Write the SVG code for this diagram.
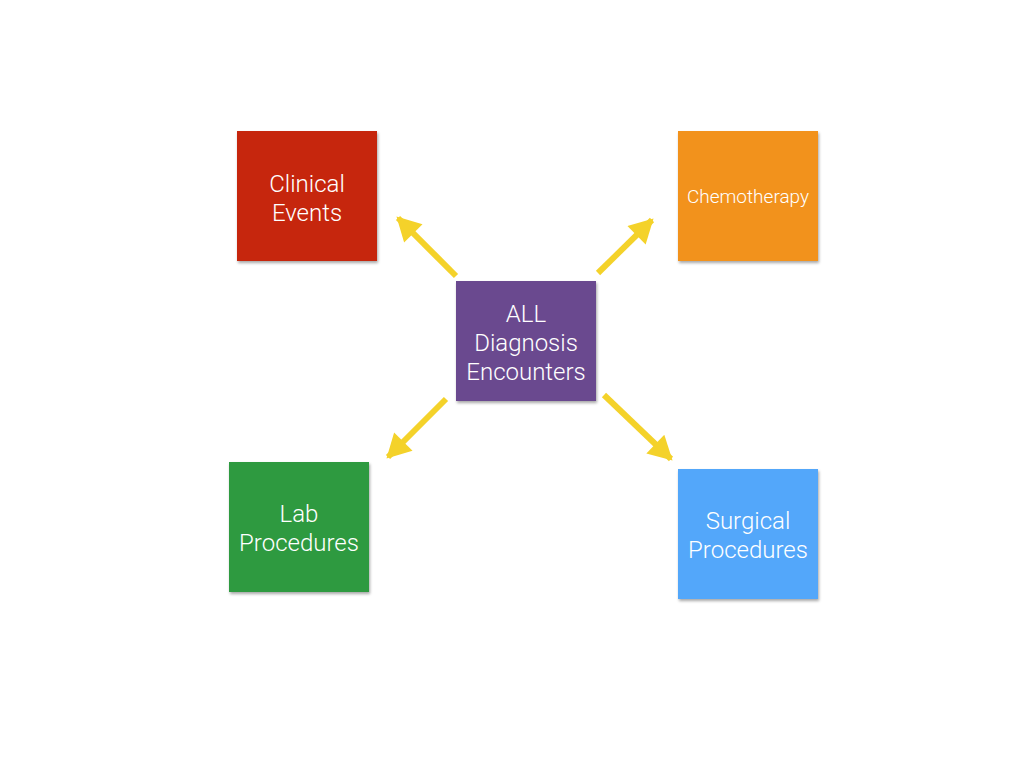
<svg xmlns="http://www.w3.org/2000/svg" width="1024" height="768" viewBox="0 0 1024 768">
<style>
.box{filter:url(#sh)}
.t{font-family:Roboto,"Liberation Sans",sans-serif;font-weight:300;fill:#fff;text-anchor:middle;font-size:24px}
.s{font-size:19px}
.c{stroke:#F4D22A;stroke-width:6;fill:none;marker-end:url(#ah)}
</style>
<defs>
<filter id="sh" x="-10%" y="-10%" width="125%" height="125%">
<feGaussianBlur in="SourceAlpha" stdDeviation="1.5"/>
<feOffset dx="1" dy="1.5"/>
<feComponentTransfer><feFuncA type="linear" slope="0.35"/></feComponentTransfer>
<feMerge><feMergeNode/><feMergeNode in="SourceGraphic"/></feMerge>
</filter>
<marker id="ah" markerUnits="userSpaceOnUse" markerWidth="26" markerHeight="26" viewBox="0 0 22 24" refX="20" refY="12" orient="auto">
<path d="M0,0 L22,12 L0,24 Z" fill="#F4D22A"/>
</marker>
</defs>
<rect width="1024" height="768" fill="#fff"/>
<g id="connectors">
<line class="c" x1="456" y1="276" x2="398" y2="218"/>
<line class="c" x1="598" y1="273" x2="652" y2="220"/>
<line class="c" x1="446" y1="399" x2="388" y2="457"/>
<line class="c" x1="604" y1="395" x2="671" y2="459"/>
</g>
<g id="clinical">
<rect class="box" x="237" y="131" width="140" height="130" fill="#C6260A"/>
<text class="t" x="307" y="192">Clinical</text>
<text class="t" x="307" y="221">Events</text>
</g>
<g id="chemo">
<rect class="box" x="678" y="131" width="140" height="130" fill="#F2921E"/>
<text class="t s" x="748" y="203">Chemotherapy</text>
</g>
<g id="center">
<rect class="box" x="456" y="281" width="140" height="120" fill="#6B498F"/>
<text class="t" x="526" y="322">ALL</text>
<text class="t" x="526" y="351">Diagnosis</text>
<text class="t" x="526" y="380">Encounters</text>
</g>
<g id="lab">
<rect class="box" x="229" y="462" width="140" height="130" fill="#2E9A40"/>
<text class="t" x="299" y="522">Lab</text>
<text class="t" x="299" y="551">Procedures</text>
</g>
<g id="surgical">
<rect class="box" x="678" y="469" width="140" height="130" fill="#52A7FA"/>
<text class="t" x="748" y="529">Surgical</text>
<text class="t" x="748" y="558">Procedures</text>
</g>
</svg>
